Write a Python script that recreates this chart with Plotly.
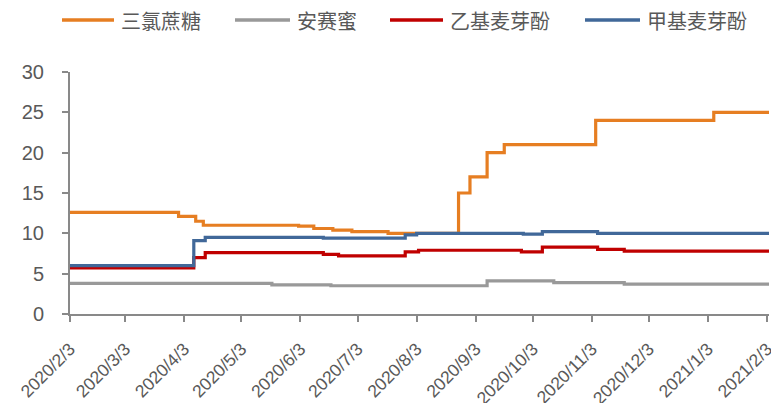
import plotly.graph_objects as go

# 三氯蔗糖
sucralose_dates = ["2020-02-03", "2020-03-31", "2020-04-09", "2020-04-13", "2020-06-02", "2020-06-10",
                   "2020-06-20", "2020-06-30", "2020-07-19", "2020-08-25", "2020-08-31", "2020-09-09",
                   "2020-09-18", "2020-11-05", "2021-01-06", "2021-02-04"]
sucralose_vals = [12.6, 12.1, 11.5, 11.0, 10.9, 10.6, 10.4, 10.2, 10.0, 15.0, 17.0, 20.0, 21.0, 24.0, 25.0, 25.0]

# 安赛蜜
acesulfame_dates = ["2020-02-03", "2020-05-19", "2020-06-19", "2020-09-09", "2020-10-14", "2020-11-20", "2021-02-04"]
acesulfame_vals = [3.8, 3.6, 3.5, 4.1, 3.9, 3.7, 3.7]

# 乙基麦芽酚
ethyl_dates = ["2020-02-03", "2020-04-08", "2020-04-14", "2020-06-15", "2020-06-23", "2020-07-28",
               "2020-08-04", "2020-09-27", "2020-10-08", "2020-11-06", "2020-11-20", "2021-02-04"]
ethyl_vals = [5.7, 7.0, 7.6, 7.4, 7.2, 7.7, 7.9, 7.7, 8.3, 8.0, 7.8, 7.8]

# 甲基麦芽酚
methyl_dates = ["2020-02-03", "2020-04-08", "2020-04-14", "2020-06-15", "2020-07-28", "2020-08-03",
                "2020-09-28", "2020-10-08", "2020-11-06", "2021-02-04"]
methyl_vals = [6.0, 9.1, 9.5, 9.4, 9.8, 10.0, 9.9, 10.2, 10.0, 10.0]

tick_vals = ["2020-02-03", "2020-03-03", "2020-04-03", "2020-05-03", "2020-06-03", "2020-07-03",
             "2020-08-03", "2020-09-03", "2020-10-03", "2020-11-03", "2020-12-03", "2021-01-03", "2021-02-03"]
tick_text = ["2020/2/3", "2020/3/3", "2020/4/3", "2020/5/3", "2020/6/3", "2020/7/3", "2020/8/3",
             "2020/9/3", "2020/10/3", "2020/11/3", "2020/12/3", "2021/1/3", "2021/2/3"]

series_names = ["三氯蔗糖", "安赛蜜", "乙基麦芽酚", "甲基麦芽酚"]
series_x = [sucralose_dates, acesulfame_dates, ethyl_dates, methyl_dates]
series_y = [sucralose_vals, acesulfame_vals, ethyl_vals, methyl_vals]
colors = ["#E67E22", "#999999", "#C00000", "#416899"]

W, H = 771, 403
L, R, T = 70, 2, 72
ph = 242
B = H - T - ph
pw = W - L - R

fig = go.Figure()
for name, xs, ys, color in zip(series_names, series_x, series_y, colors):
    fig.add_trace(go.Scatter(x=xs, y=ys, name=name, mode="lines", line_shape="hv",
                             line=dict(color=color, width=3.2), showlegend=False))

# custom legend (line + text) placed in screen pixels above the plot
legend_line_px = [(62, 114), (235, 290), (390, 443), (585, 640)]
legend_y_px = 20


def px_x(p):
    return (p - L) / pw


def px_y(p):
    return (T + ph - p) / ph


for (x0, x1), name, color in zip(legend_line_px, series_names, colors):
    fig.add_shape(type="line", xref="paper", yref="paper",
                  x0=px_x(x0), x1=px_x(x1), y0=px_y(legend_y_px), y1=px_y(legend_y_px),
                  line=dict(color=color, width=3.5))
    fig.add_annotation(xref="paper", yref="paper", x=px_x(x1 + 5), y=px_y(legend_y_px),
                       xanchor="left", yanchor="middle", text=name, showarrow=False,
                       font=dict(family="Noto Sans CJK SC", size=20, color="#595959"))

axis_color = "#898989"
fig.update_layout(
    width=W, height=H,
    margin=dict(l=L, r=R, t=T, b=B),
    paper_bgcolor="white", plot_bgcolor="white",
    font=dict(family="Liberation Sans, Arial, sans-serif", color="#595959"),
    showlegend=False,
)
fig.update_xaxes(range=["2020-02-03", "2021-02-04"], tickvals=tick_vals, ticktext=tick_text,
                 tickangle=-45, tickfont=dict(size=17.5, color="#595959"), automargin=False,
                 showline=True, linecolor=axis_color, linewidth=2, ticks="outside",
                 tickcolor=axis_color, ticklen=6, tickwidth=2, showgrid=False, zeroline=False,
                 ticklabelstandoff=10, ticklabeloverflow="allow")
fig.update_yaxes(range=[0, 30], dtick=5, tickfont=dict(size=20, color="#595959"), automargin=False,
                 showline=True, linecolor=axis_color, linewidth=2, ticks="outside",
                 tickcolor=axis_color, ticklen=6, tickwidth=1.5, showgrid=False, zeroline=False,
                 ticklabelstandoff=14)

fig.write_html("out.html", config={"displayModeBar": False},
               post_script="document.body.style.margin='0';document.body.style.overflow='hidden';")
